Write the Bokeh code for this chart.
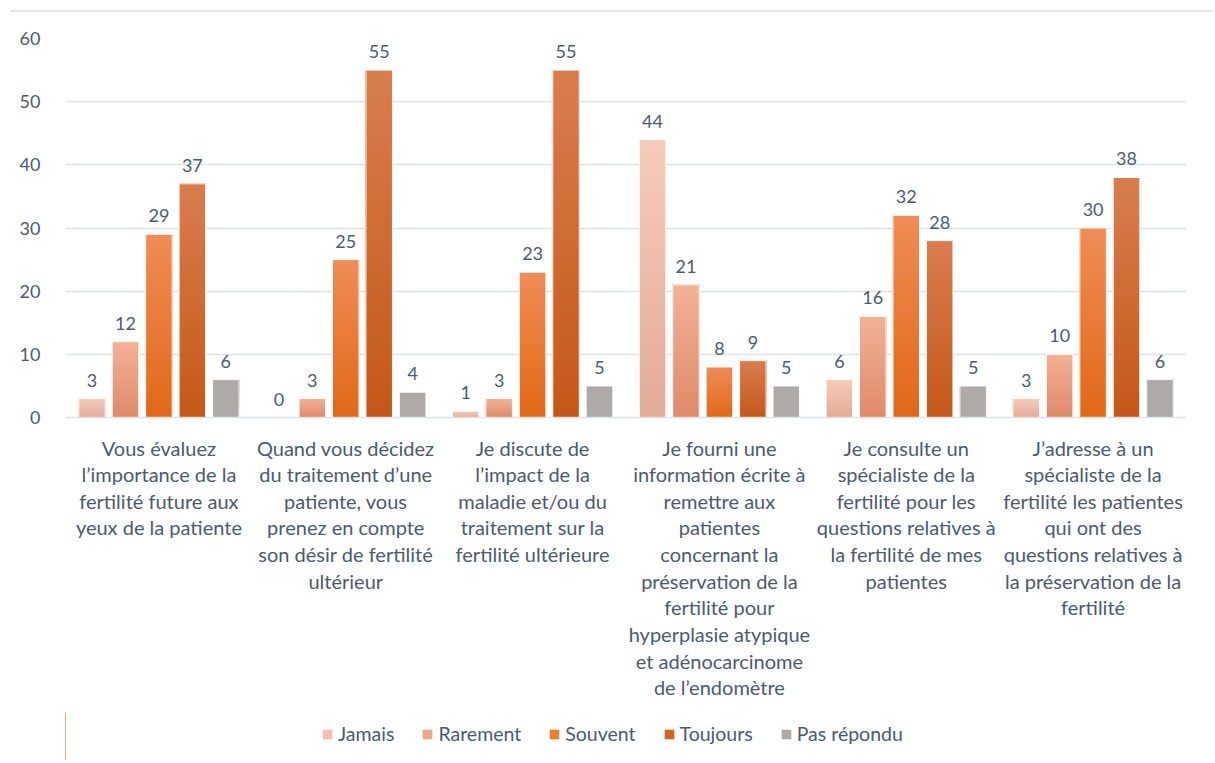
from bokeh.plotting import figure
from bokeh.layouts import column
from bokeh.models import ColumnDataSource, FactorRange, Legend, LegendItem, Range1d, SingleIntervalTicker
from bokeh.transform import dodge
from bokeh.core.properties import value
from bokeh.embed import file_html
from bokeh.resources import INLINE

categories = [
    "Vous évaluez\nl’importance de la\nfertilité future aux\nyeux de la patiente",
    "Quand vous décidez\ndu traitement d’une\npatiente, vous\nprenez en compte\nson désir de fertilité\nultérieur",
    "Je discute de\nl’impact de la\nmaladie et/ou du\ntraitement sur la\nfertilité ultérieure",
    "Je fourni une\ninformation écrite à\nremettre aux\npatientes\nconcernant la\npréservation de la\nfertilité pour\nhyperplasie atypique\net adénocarcinome\nde l’endomètre",
    "Je consulte un\nspécialiste de la\nfertilité pour les\nquestions relatives à\nla fertilité de mes\npatientes",
    "J’adresse à un\nspécialiste de la\nfertilité les patientes\nqui ont des\nquestions relatives à\nla préservation de la\nfertilité",
]
series = ["Jamais", "Rarement", "Souvent", "Toujours", "Pas répondu"]
jamais = [3, 0, 1, 44, 6, 3]
rarement = [12, 3, 3, 21, 16, 10]
souvent = [29, 25, 23, 8, 32, 30]
toujours = [37, 55, 55, 9, 28, 38]
pas_repondu = [6, 4, 5, 5, 5, 6]
values_list = [jamais, rarement, souvent, toujours, pas_repondu]

# gradient colours (bottom, top) and legend colour
grad = [
    ("#e2ab98", "#f7cbb9", "#f3c0ad"),
    ("#df8a6a", "#f3b195", "#f0a483"),
    ("#e26816", "#f08c56", "#f47c2c"),
    ("#c55818", "#d97d4e", "#d0661f"),
    ("#aeaaa8", "#aeaaa8", "#aeaaa8"),
]

TEXT = "#4d5a6d"
FONT = "Lato"
BORDER = "#e3e7ee"

def hex2rgb(h):
    h = h.lstrip("#")
    return tuple(int(h[i:i + 2], 16) for i in (0, 2, 4))

def mix(a, b, t):
    ra, rb = hex2rgb(a), hex2rgb(b)
    return "#%02x%02x%02x" % tuple(int(round(ra[i] + (rb[i] - ra[i]) * t)) for i in range(3))

p = figure(
    width=1203, height=700,
    x_range=FactorRange(*categories, range_padding=0),
    y_range=Range1d(0, 60),
    output_backend="svg", toolbar_location=None,
    min_border_left=55, min_border_right=27, min_border_top=26, min_border_bottom=295,
)
p.outline_line_color = None
p.background_fill_color = "white"
p.border_fill_alpha = 0

step = 0.179
width = 0.142
offsets = [(i - 2) * step for i in range(5)]
N = 40
for si, name in enumerate(series):
    vals = values_list[si]
    bot_c, top_c, leg_c = grad[si]
    xs, tops, bots, cols = [], [], [], []
    for k in range(N):
        for ci, cat in enumerate(categories):
            v = vals[ci]
            if v <= 0:
                continue
            xs.append(cat)
            bots.append(v * k / N)
            tops.append(v)
            cols.append(mix(bot_c, top_c, (k + 0.5) / N))
    src = ColumnDataSource(dict(x=xs, top=tops, bottom=bots, color=cols))
    base_src = ColumnDataSource(dict(x=categories, top=vals, label=[str(v) for v in vals]))
    p.vbar(x=dodge("x", offsets[si], range=p.x_range), top="top", bottom="bottom", width=width,
           source=src, fill_color="color", line_color=None)
    p.vbar(x=dodge("x", offsets[si], range=p.x_range), top="top", width=width,
           source=base_src, fill_color=None, line_color="white", line_width=1)
    p.text(x=dodge("x", offsets[si], range=p.x_range), y="top", text="label", source=base_src,
           text_align="center", text_baseline="bottom", y_offset=-12,
           text_font=value(FONT), text_font_size="18px", text_color=TEXT)

# axes
p.yaxis.ticker = SingleIntervalTicker(interval=10)
p.yaxis.axis_line_color = None
p.yaxis.major_tick_line_color = None
p.yaxis.minor_tick_line_color = None
p.yaxis.major_label_text_font = FONT
p.yaxis.major_label_text_font_size = "18px"
p.yaxis.major_label_text_color = TEXT
p.yaxis.major_label_standoff = 19

p.xaxis.axis_line_color = "#dde2e9"
p.xaxis.axis_line_width = 1.5
p.xaxis.major_tick_line_color = None
p.xaxis.minor_tick_line_color = None
p.xaxis.major_label_text_font = FONT
p.xaxis.major_label_text_font_size = "20px"
p.xaxis.major_label_text_color = TEXT
p.xaxis.major_label_text_line_height = 1.11
p.xaxis.major_label_standoff = 12
p.xaxis.major_label_orientation = "horizontal"

p.xgrid.grid_line_color = None
p.ygrid.grid_line_color = "#dde2e9"
p.ygrid.grid_line_width = 1.5

# legend strip
q = figure(width=1203, height=48, x_range=Range1d(0, 1), y_range=Range1d(0, 1),
           x_axis_type=None, y_axis_type=None,
           output_backend="svg", toolbar_location=None,
           min_border_left=55, min_border_right=27, min_border_top=0, min_border_bottom=0)
q.grid.grid_line_color = None
q.outline_line_color = None
q.border_fill_alpha = 0
q.background_fill_alpha = 0
items = []
for si, name in enumerate(series):
    r = q.vbar(x=[-10], top=[1], width=0.1, fill_color=grad[si][2], line_color=None)
    items.append(LegendItem(label=name, renderers=[r]))
legend = Legend(items=items, orientation="horizontal", location=(256, 15),
                label_text_font=FONT, label_text_font_size="19.5px", label_text_color=TEXT,
                glyph_width=12, glyph_height=12, spacing=27, label_standoff=5,
                padding=0, margin=0,
                border_line_color=None, background_fill_alpha=0)
q.add_layout(legend, "center")

layout = column(p, q, spacing=0)
layout.styles = {"border-top": "2px solid " + BORDER,
                 "margin-left": "10px", "margin-top": "10px", "background-color": "white"}
open("out.html", "w").write(file_html(layout, INLINE))
